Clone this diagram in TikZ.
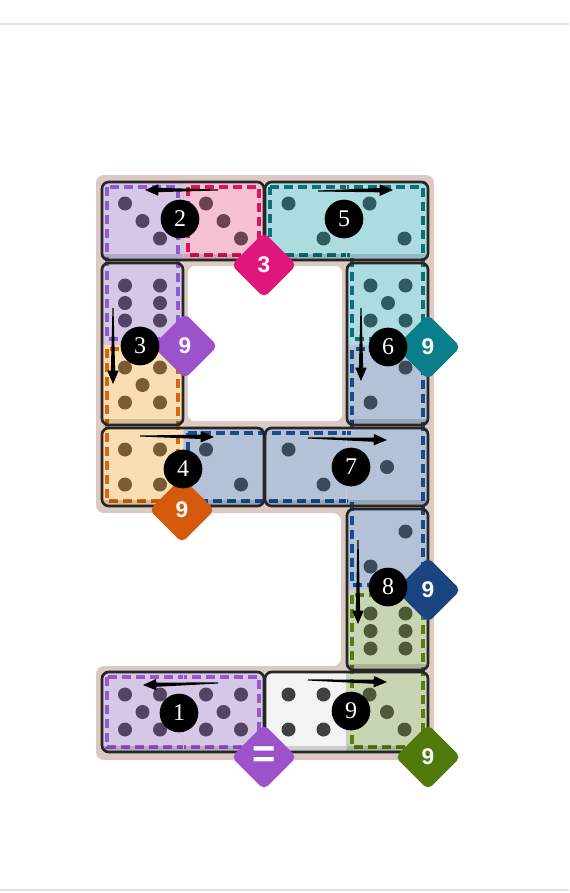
\documentclass[tikz,border=0pt]{standalone}
\usepackage{fontspec}
\setmainfont{Liberation Serif}
\newfontfamily\badgefont{Liberation Sans}
\usetikzlibrary{shapes.geometric,calc}

\definecolor{tanbg}{HTML}{DCC9C2}
\definecolor{lilaF}{HTML}{D6C7E6}\definecolor{lilaP}{HTML}{524462}\definecolor{lilaD}{HTML}{9459D0}
\definecolor{rosaF}{HTML}{F7C1D4}\definecolor{rosaP}{HTML}{6E4253}\definecolor{rosaD}{HTML}{E0115F}
\definecolor{cyanF}{HTML}{ADDCE0}\definecolor{cyanP}{HTML}{2F5B60}\definecolor{cyanD}{HTML}{0D6F78}
\definecolor{orngF}{HTML}{FADEB3}\definecolor{orngP}{HTML}{7A5C34}\definecolor{orngD}{HTML}{D96512}
\definecolor{bluF}{HTML}{B3C2D6}\definecolor{bluP}{HTML}{3C4B5C}\definecolor{bluD}{HTML}{1C4B8A}
\definecolor{grnF}{HTML}{C7D5B2}\definecolor{grnP}{HTML}{4D5A35}\definecolor{grnD}{HTML}{5A7D10}
\definecolor{whtF}{HTML}{F3F3F3}\definecolor{whtP}{HTML}{404040}
\definecolor{bMag}{HTML}{E0177A}\definecolor{bPur}{HTML}{9C52CA}\definecolor{bTeal}{HTML}{0B7E8C}
\definecolor{bOrg}{HTML}{D65A0C}\definecolor{bNavy}{HTML}{1A4580}\definecolor{bGrn}{HTML}{4F7A0B}

% pips of one half: centre x, centre y, colour, offsets
\newcommand{\face}[4]{\edef\facelist{#4}%
  \foreach \a/\b in \facelist \fill[#3] ({#1+\a*17.5},{#2+\b*17.5}) circle (7);}
% outline of a domino, seam across or along
\newcommand{\hdom}[4]{%
  \fill[black,opacity=.15] (#1+2,#4-6) rectangle (#3-2,#4-1);
  \draw[black!20] ({(#1+#3)/2},#2+2) -- ({(#1+#3)/2},#4-3);
  \draw[domino] (#1,#2) rectangle (#3,#4);}
\newcommand{\vdom}[4]{%
  \fill[black,opacity=.15] (#1+2,#4-6) rectangle (#3-2,#4-1);
  \draw[black!20] (#1+2,{(#2+#4)/2}) -- (#3-2,{(#2+#4)/2});
  \draw[domino] (#1,#2) rectangle (#3,#4);}
% tapered arrow from one coordinate to another
\newcommand{\move}[2]{%
  \coordinate (hd) at ($(#2)!10pt!(#1)$);
  \fill ($(#1)!.4pt!90:(#2)$) -- ($(hd)!1.6pt!90:(#2)$) -- ($(hd)!4.3pt!90:(#2)$) -- (#2)
    -- ($(hd)!4.3pt!-90:(#2)$) -- ($(hd)!1.6pt!-90:(#2)$) -- ($(#1)!.4pt!-90:(#2)$) -- cycle;}
\newcommand{\six}{-1/-1,1/-1,-1/0,1/0,-1/1,1/1}
\newcommand{\five}{-1/-1,1/-1,0/0,-1/1,1/1}
\newcommand{\four}{-1/-1,1/-1,-1/1,1/1}

\begin{document}
\begin{tikzpicture}[x=0.75pt,y=-0.75pt,
  domino/.style={draw=black!85,line width=2pt,rounded corners=5pt},
  cage/.style={line width=2.4pt,dash pattern=on 6.5pt off 4pt},
  badge/.style={diamond,rounded corners=4pt,minimum size=49pt,inner sep=0pt,text=white,
    font=\badgefont\bfseries\fontsize{17}{17}\selectfont},
  num/.style={circle,fill=black,text=white,minimum size=29pt,inner sep=0pt,
    font=\fontsize{18}{18}\selectfont}]
  \useasboundingbox (0,0) rectangle (569,893);
  \draw[black!12,line width=.8pt] (0,24) -- (569,24);
  \draw[black!12,line width=.8pt] (0,890) -- (569,890);

  % board
  \fill[tanbg,rounded corners=6pt] (96,175) -- (434,175) -- (434,760) -- (96,760)
    -- (96,666) -- (341,666) -- (341,513) -- (96,513) -- cycle;
  \fill[white,rounded corners=5pt] (188,266) rectangle (342,421);

  % halves
  \fill[lilaF] (102,182) rectangle (183,260);
  \fill[rosaF] (183,182) rectangle (264,260);
  \fill[cyanF] (265,182) rectangle (428,260);
  \fill[lilaF] (102,263) rectangle (183,344);
  \fill[orngF] (102,344) rectangle (183,425);
  \fill[cyanF] (347,263) rectangle (428,344);
  \fill[bluF]  (347,344) rectangle (428,425);
  \fill[orngF] (102,428) rectangle (183,506);
  \fill[bluF]  (183,428) rectangle (264,506);
  \fill[bluF]  (265,428) rectangle (428,506);
  \fill[bluF]  (347,509) rectangle (428,590);
  \fill[grnF]  (347,590) rectangle (428,670);
  \fill[lilaF] (102,672) rectangle (264,752);
  \fill[whtF]  (265,672) rectangle (346,752);
  \fill[grnF]  (346,672) rectangle (428,752);

  % cages
  \draw[cage,lilaD] (107,187) rectangle (178,339);
  \draw[cage,rosaD] (188,187) rectangle (259,255);
  \draw[cage,cyanD] (270,187) -- (423,187) -- (423,339) -- (352,339) -- (352,255) -- (270,255) -- cycle;
  \draw[cage,orngD] (107,349) rectangle (178,501);
  \draw[cage,bluD] (188,433) -- (352,433) -- (352,349) -- (423,349) -- (423,585)
    -- (352,585) -- (352,501) -- (188,501) -- cycle;
  \draw[cage,grnD] (352,595) rectangle (423,747);
  \draw[cage,lilaD] (107,677) rectangle (259,747);

  % pips
  \face{142.5}{221}{lilaP}{-1/-1,0/0,1/1}
  \face{223.5}{221}{rosaP}{-1/-1,0/0,1/1}
  \face{306}{221}{cyanP}{-1/-1,1/1}
  \face{387}{221}{cyanP}{-1/-1,1/1}
  \face{142.5}{303}{lilaP}{\six}
  \face{142.5}{385}{orngP}{\five}
  \face{388}{303}{cyanP}{\five}
  \face{388}{385}{bluP}{1/-1,-1/1}
  \face{142.5}{467}{orngP}{\four}
  \face{223.5}{467}{bluP}{-1/-1,1/1}
  \face{306}{467}{bluP}{-1/-1,1/1}
  \face{387}{467}{bluP}{0/0}
  \face{388}{549}{bluP}{1/-1,-1/1}
  \face{388}{631}{grnP}{\six}
  \face{142.5}{712}{lilaP}{\five}
  \face{223.5}{712}{lilaP}{\five}
  \face{306}{712}{whtP}{\four}
  \face{387}{712}{grnP}{-1/-1,0/0,1/1}

  % dominoes
  \hdom{102}{182}{264}{260}
  \hdom{265}{182}{428}{260}
  \vdom{102}{263}{183}{425}
  \vdom{347}{263}{428}{425}
  \hdom{102}{428}{264}{506}
  \hdom{265}{428}{428}{506}
  \vdom{347}{509}{428}{670}
  \hdom{102}{672}{264}{752}
  \hdom{265}{672}{428}{752}

  % sums
  \node[badge,fill=bMag]  (sumA) at (264,265) {3};
  \node[badge,fill=bPur]  (sumB) at (185,346) {9};
  \node[badge,fill=bTeal] (sumC) at (428,347) {9};
  \node[badge,fill=bOrg]  (sumD) at (182,510) {9};
  \node[badge,fill=bNavy] (sumE) at (428,590) {9};
  \node[badge,fill=bPur,font=\badgefont\bfseries\fontsize{30}{30}\selectfont] (sumF) at (264,757) {=};
  \node[badge,fill=bGrn]  (sumG) at (428,757) {9};

  % moves
  \coordinate (m1s) at (218,683); \coordinate (m1e) at (143,685);
  \coordinate (m2s) at (218,190); \coordinate (m2e) at (145,190);
  \coordinate (m3s) at (113,308); \coordinate (m3e) at (113,384);
  \coordinate (m4s) at (140,436); \coordinate (m4e) at (214,437);
  \coordinate (m5s) at (318,191); \coordinate (m5e) at (393,190);
  \coordinate (m6s) at (361,308); \coordinate (m6e) at (361,381);
  \coordinate (m7s) at (308,438); \coordinate (m7e) at (387,440);
  \coordinate (m8s) at (358,540); \coordinate (m8e) at (358,624);
  \coordinate (m9s) at (308,680); \coordinate (m9e) at (387,682);
  \foreach \i in {1,...,9} {\move{m\i s}{m\i e}}

  \node[num] (n1) at (179,713) {1};
  \node[num] (n2) at (180,219) {2};
  \node[num] (n3) at (140,346) {3};
  \node[num] (n4) at (183,469) {4};
  \node[num] (n5) at (344,219) {5};
  \node[num] (n6) at (388,347) {6};
  \node[num] (n7) at (351,467) {7};
  \node[num] (n8) at (388,587) {8};
  \node[num] (n9) at (351,711) {9};
\end{tikzpicture}
\end{document}
